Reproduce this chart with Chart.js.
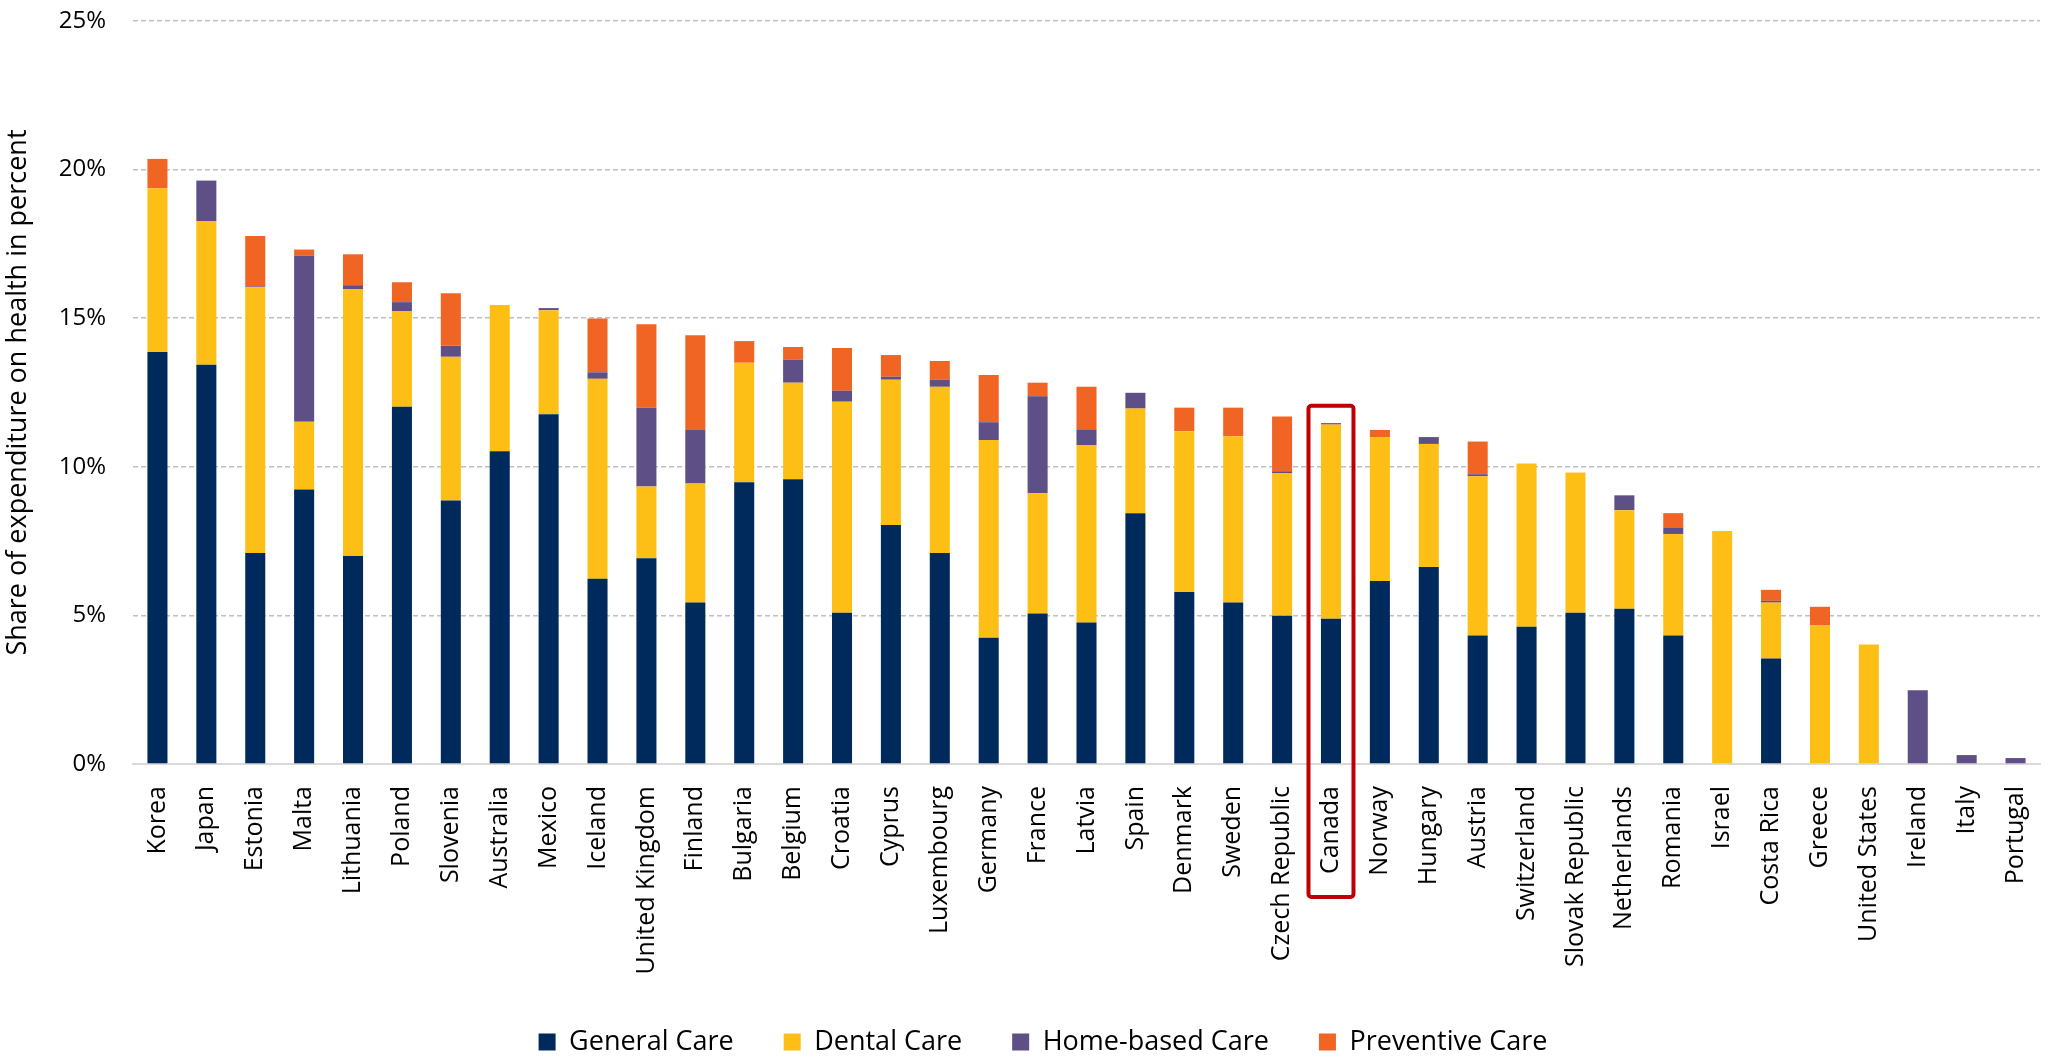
<!DOCTYPE html>
<html>
<head>
<meta charset="utf-8">
<script src="https://cdn.jsdelivr.net/npm/chart.js@4.4.1/dist/chart.umd.min.js"></script>
<style>
  html, body { margin: 0; padding: 0; background: #ffffff; }
  #wrap { width: 2048px; height: 1064px; position: relative; }
</style>
</head>
<body>
<div id="wrap"><canvas id="c" width="2048" height="1064"></canvas></div>
<script>
const countries = ["Korea","Japan","Estonia","Malta","Lithuania","Poland","Slovenia","Australia","Mexico","Iceland","United Kingdom","Finland","Bulgaria","Belgium","Croatia","Cyprus","Luxembourg","Germany","France","Latvia","Spain","Denmark","Sweden","Czech Republic","Canada","Norway","Hungary","Austria","Switzerland","Slovak Republic","Netherlands","Romania","Israel","Costa Rica","Greece","United States","Ireland","Italy","Portugal"];

const generalCare = [13.86,13.43,7.10,9.24,7.00,12.02,8.87,10.52,11.77,6.23,6.92,5.43,9.48,9.58,5.09,8.04,7.10,4.25,5.06,4.76,8.44,5.79,5.43,4.99,4.89,6.16,6.63,4.32,4.62,5.09,5.22,4.32,0,3.55,0,0,0,0,0];
const dentalCare = [5.51,4.84,8.94,2.28,8.97,3.22,4.83,4.92,3.50,6.73,2.42,4.01,4.02,3.25,7.10,4.89,5.59,6.65,4.05,5.97,3.52,5.41,5.60,4.79,6.53,4.84,4.14,5.36,5.49,4.72,3.32,3.42,7.84,1.88,4.66,4.02,0,0,0];
const homeBasedCare = [0,1.36,0.03,5.59,0.14,0.30,0.37,0,0.07,0.22,2.65,1.80,0,0.77,0.37,0.10,0.24,0.60,3.26,0.51,0.53,0,0,0.07,0.05,0,0.23,0.07,0,0,0.50,0.20,0,0.06,0,0,2.48,0.30,0.20];
const preventiveCare = [0.99,0,1.70,0.20,1.04,0.67,1.77,0,0,1.81,2.81,3.19,0.73,0.43,1.44,0.73,0.63,1.59,0.46,1.45,0,0.79,0.96,1.84,0,0.24,0,1.10,0,0,0,0.50,0,0.37,0.63,0,0,0,0];

const seriesNames = ["General Care","Dental Care","Home-based Care","Preventive Care"];
const yTicks = [0,5,10,15,20,25];
const highlightCountry = "Canada";
const highlightTopValue = 12.05;

const FONT = "'Open Sans', 'DejaVu Sans', sans-serif";

const highlightPlugin = {
  id: 'highlight',
  afterLayout(chart) {
    const lg = chart.legend;
    if (lg) {
      const dx = 23;
      lg.left += dx; lg.right += dx;
      lg.top = 1042 - 50 - 13.5;
      lg.bottom = chart.height;
      lg.height = lg.bottom - lg.top;
    }
  },
  afterDraw(chart) {
    const xs = chart.scales.x, ys = chart.scales.y;
    const idx = countries.indexOf(highlightCountry);
    const cx = xs.getPixelForValue(idx);
    const top = ys.getPixelForValue(highlightTopValue);
    const bottom = ys.getPixelForValue(0) + 133;
    const ctx = chart.ctx;
    ctx.save();
    ctx.strokeStyle = '#C00000';
    ctx.lineWidth = 4;
    ctx.beginPath();
    if (ctx.roundRect) ctx.roundRect(cx - 22.5, top, 45, bottom - top, 3);
    else ctx.rect(cx - 22.5, top, 45, bottom - top);
    ctx.stroke();
    ctx.restore();
  }
};

new Chart(document.getElementById('c'), {
  type: 'bar',
  data: {
    labels: countries,
    datasets: [
      { label: seriesNames[0], data: generalCare, backgroundColor: '#002A5C' },
      { label: seriesNames[1], data: dentalCare, backgroundColor: '#FDBF16' },
      { label: seriesNames[2], data: homeBasedCare, backgroundColor: '#5F4F87' },
      { label: seriesNames[3], data: preventiveCare, backgroundColor: '#F06424' }
    ]
  },
  options: {
    responsive: false,
    animation: false,
    devicePixelRatio: 1,
    layout: { padding: { top: 21, right: 8, left: 0, bottom: 0 } },
    datasets: { bar: { barPercentage: 0.41, categoryPercentage: 1.0, borderWidth: 0 } },
    plugins: {
      tooltip: { enabled: false },
      legend: {
        position: 'bottom',
        maxHeight: 50,
        labels: {
          font: { family: FONT, size: 27 },
          color: '#000',
          boxWidth: 17,
          boxHeight: 17,
          padding: 50
        }
      }
    },
    scales: {
      x: {
        stacked: true,
        grid: { display: false, drawTicks: false },
        border: { display: true, color: '#D9D9D9', width: 2 },
        ticks: {
          font: { family: FONT, size: 25 },
          color: '#000',
          maxRotation: 90,
          minRotation: 90,
          padding: 22,
          autoSkip: false
        },
        afterFit(scale) {
          scale.height = 250;
          scale.paddingLeft = 0; scale.paddingRight = 0;
        }
      },
      y: {
        stacked: true,
        min: 0,
        max: 25,
        afterBuildTicks(scale) { scale.ticks = yTicks.map(v => ({ value: v })); },
        grid: { color: '#BFBFBF', lineWidth: 1.5, drawTicks: false },
        border: { display: false, dash: [5, 3] },
        ticks: {
          font: { family: FONT, size: 24 },
          color: '#000',
          padding: 27,
          callback: v => v + '%'
        },
        title: {
          display: true,
          text: 'Share of expenditure on health in percent',
          font: { family: FONT, size: 27 },
          color: '#000',
          padding: { top: 2, bottom: 0 }
        },
        afterFit(scale) {
          scale.width = 133;
          scale.paddingTop = 0; scale.paddingBottom = 0;
        }
      }
    }
  },
  plugins: [highlightPlugin]
});
</script>
</body>
</html>
